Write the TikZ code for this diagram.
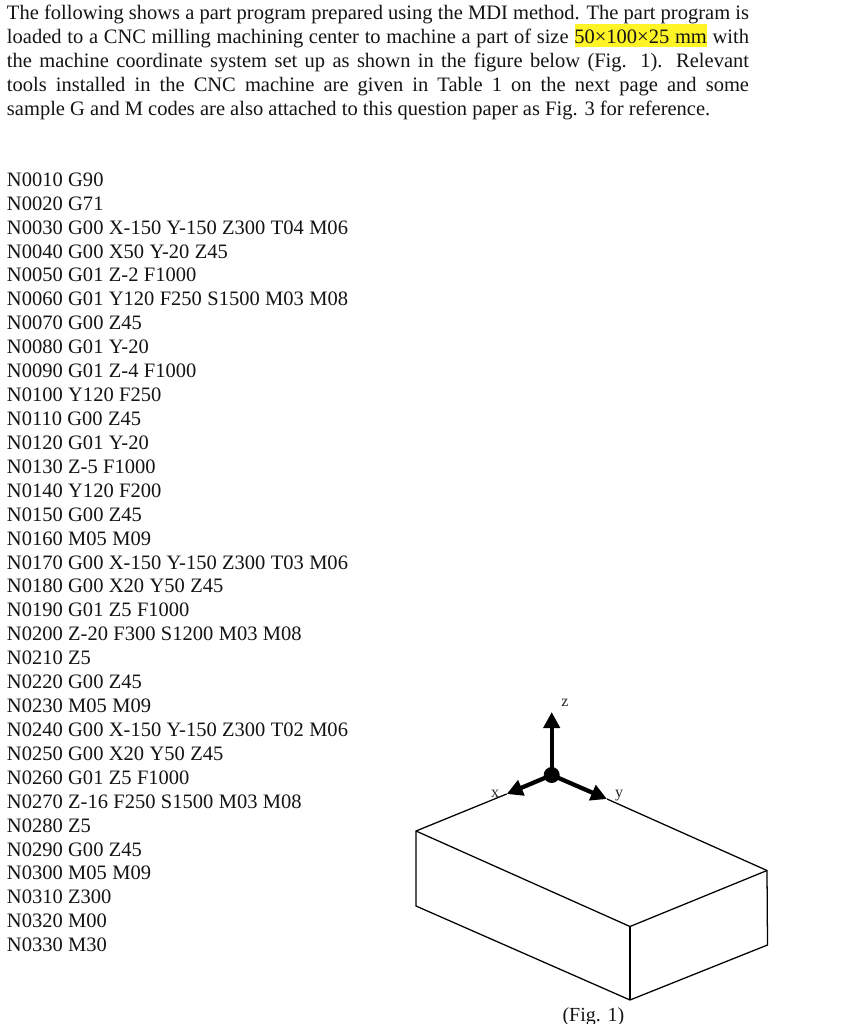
\documentclass[tikz,border=0pt]{standalone}
\usepackage{fontspec}
\setmainfont{Liberation Serif}
\usetikzlibrary{arrows.meta}
\newcommand{\fs}{\fontsize{15.38pt}{18pt}\selectfont}
\tikzset{
  txt/.style={anchor=base west,inner sep=0pt,outer sep=0pt,font=\fs,text=black!92},
  edgeline/.style={draw=black,line width=0.95pt},
  axis/.style={draw=black,line width=3.2pt,-{Triangle[length=12pt,width=12pt]}},
  axlab/.style={inner sep=0pt,font=\fontsize{12pt}{12pt}\selectfont,text=black!85},
}
\begin{document}
\begin{tikzpicture}[x=0.75pt,y=-0.75pt]
\useasboundingbox (0,0) rectangle (858,1024);
\fill[white] (0,0) rectangle (858,1024);
\fill[yellow!85!white] (575,24) rectangle (707,47);
% paragraph
\node[txt] (p1) at (7,20) {\makebox[742\dimexpr0.75pt][s]{The following shows a part program prepared using the MDI method. The part program is}};
\node[txt] (p2) at (7,44) {\makebox[742\dimexpr0.75pt][s]{loaded to a CNC milling machining center to machine a part of size 50×100×25 mm with}};
\node[txt] (p3) at (7,67.7) {\makebox[742\dimexpr0.75pt][s]{the machine coordinate system set up as shown in the figure below (Fig. 1). Relevant}};
\node[txt] (p4) at (7,91.5) {\makebox[742\dimexpr0.75pt][s]{tools installed in the CNC machine are given in Table 1 on the next page and some}};
\node[txt] (p5) at (7,115) {sample G and M codes are also attached to this question paper as Fig. 3 for reference.};
% program
\foreach \n/\t [count=\i from 0] in {
 a/N0010 G90, b/N0020 G71, c/N0030 G00 X-150 Y-150 Z300 T04 M06, d/N0040 G00 X50 Y-20 Z45,
 e/N0050 G01 Z-2 F1000, f/N0060 G01 Y120 F250 S1500 M03 M08, g/N0070 G00 Z45, h/N0080 G01 Y-20,
 i/N0090 G01 Z-4 F1000, j/N0100 Y120 F250, k/N0110 G00 Z45, l/N0120 G01 Y-20, m/N0130 Z-5 F1000,
 n/N0140 Y120 F200, o/N0150 G00 Z45, q/N0160 M05 M09, r/N0170 G00 X-150 Y-150 Z300 T03 M06,
 s/N0180 G00 X20 Y50 Z45, t/N0190 G01 Z5 F1000, u/N0200 Z-20 F300 S1200 M03 M08, v/N0210 Z5,
 w/N0220 G00 Z45, aa/N0230 M05 M09, ab/N0240 G00 X-150 Y-150 Z300 T02 M06, ac/N0250 G00 X20 Y50 Z45,
 ad/N0260 G01 Z5 F1000, ae/N0270 Z-16 F250 S1500 M03 M08, af/N0280 Z5, ag/N0290 G00 Z45,
 ah/N0300 M05 M09, ai/N0310 Z300, aj/N0320 M00, ak/N0330 M30}
 {\node[txt] (prog\n) at (7,{186.3+\i*23.92}) {\spaceskip=1.05\fontdimen2\font\t};}
% block
\coordinate (tl) at (416,831);
\coordinate (xe) at (506.7,794);
\coordinate (ye) at (607,799);
\coordinate (tr) at (767,870.5);
\coordinate (fc) at (630,926.5);
\coordinate (bl) at (416,906);
\coordinate (bc) at (630,1000);
\coordinate (br) at (767.5,945);
\coordinate (o) at (551.7,775);
\coordinate (zt) at (551.7,712);
\draw[edgeline,line join=miter] (xe) -- (tl) -- (bl) -- (bc) -- (br) -- (tr) -- (ye);
\draw[edgeline] (tl) -- (fc) -- (tr);
\draw[edgeline] (fc) -- (bc);
% axes
\draw[axis] (o) -- (zt);
\draw[axis] (o) -- (xe);
\draw[axis] (o) -- (ye);
\fill (o) circle[radius=8];
\node[axlab] (zl) at (565,703) {z};
\node[axlab] (xl) at (495,794) {x};
\node[axlab] (yl) at (619,796) {y};
\node[txt,font=\fontsize{15pt}{18pt}\selectfont] (cap) at (562.5,1021) {(Fig. 1)};
\end{tikzpicture}
\end{document}
